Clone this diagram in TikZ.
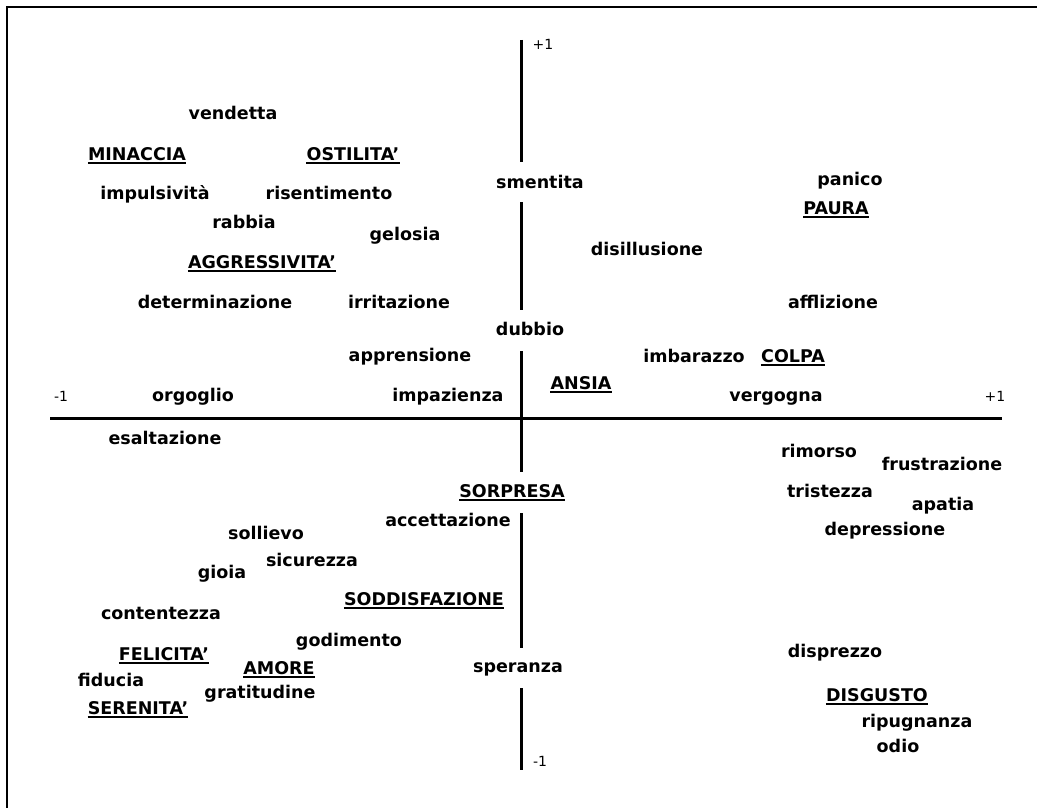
\documentclass[tikz,border=0pt]{standalone}
\usepackage{fontspec}
\newfontfamily\wordfont{DejaVu Sans}
\begin{document}
\begin{tikzpicture}[x=1pt,y=-1pt,
  word/.style={anchor=base, inner sep=0pt, font=\wordfont\bfseries\fontsize{17.5}{20}\selectfont},
  tick/.style={anchor=base, inner sep=0pt, font=\wordfont\fontsize{14}{16}\selectfont},
  axis/.style={line width=3pt},
  ul/.style={line width=1.5pt},
  frame/.style={line width=2pt}]
\useasboundingbox (0,0) rectangle (1037,808);
\fill[white] (0,0) rectangle (1037,808);
% outer frame (left and top edges)
\draw[frame] (7,808) -- (7,7) -- (1037,7);

% axis end labels
\node[tick] (ptop) at (543,50) {+1};
\node[tick] (mbot) at (540,766) {-1};
\node[tick] (mleft) at (61,401) {-1};
\node[tick] (pright) at (995,401) {+1};

% upper left quadrant
\node[word] (vendetta) at (233,120) {vendetta};
\node[word] (minaccia) at (137,160) {MINACCIA};
\node[word] (ostilita) at (353,160) {OSTILITA’};
\node[word] (impulsivita) at (155,199) {impulsività};
\node[word] (risentimento) at (329,199) {risentimento};
\node[word] (rabbia) at (244,228) {rabbia};
\node[word] (gelosia) at (405,240) {gelosia};
\node[word] (aggressivita) at (262,268) {AGGRESSIVITA’};
\node[word] (determinazione) at (215,308) {determinazione};
\node[word] (irritazione) at (399,308) {irritazione};
\node[word] (apprensione) at (410,361) {apprensione};
\node[word] (orgoglio) at (193,401) {orgoglio};
\node[word] (impazienza) at (448,401) {impazienza};

% on the vertical axis
\node[word] (smentita) at (540,188) {smentita};
\node[word] (dubbio) at (530,335) {dubbio};
\node[word] (sorpresa) at (512,497) {SORPRESA};
\node[word] (speranza) at (518,672) {speranza};

% upper right quadrant
\node[word] (panico) at (850,185) {panico};
\node[word] (paura) at (836,214) {PAURA};
\node[word] (disillusione) at (647,255) {disillusione};
\node[word] (afflizione) at (833,308) {afflizione};
\node[word] (imbarazzo) at (694,362) {imbarazzo};
\node[word] (colpa) at (793,362) {COLPA};
\node[word] (ansia) at (581,389) {ANSIA};
\node[word] (vergogna) at (776,401) {vergogna};

% lower left quadrant
\node[word] (esaltazione) at (165,444) {esaltazione};
\node[word] (accettazione) at (448,526) {accettazione};
\node[word] (sollievo) at (266,539) {sollievo};
\node[word] (sicurezza) at (312,566) {sicurezza};
\node[word] (gioia) at (222,578) {gioia};
\node[word] (soddisfazione) at (424,605) {SODDISFAZIONE};
\node[word] (contentezza) at (161,619) {contentezza};
\node[word] (godimento) at (349,646) {godimento};
\node[word] (felicita) at (164,660) {FELICITA’};
\node[word] (amore) at (279,674) {AMORE};
\node[word] (fiducia) at (111,686) {fiducia};
\node[word] (gratitudine) at (260,698) {gratitudine};
\node[word] (serenita) at (138,714) {SERENITA’};

% lower right quadrant
\node[word] (rimorso) at (819,457) {rimorso};
\node[word] (frustrazione) at (942,470) {frustrazione};
\node[word] (tristezza) at (830,497) {tristezza};
\node[word] (apatia) at (943,510) {apatia};
\node[word] (depressione) at (885,535) {depressione};
\node[word] (disprezzo) at (835,657) {disprezzo};
\node[word] (disgusto) at (877,701) {DISGUSTO};
\node[word] (ripugnanza) at (917,727) {ripugnanza};
\node[word] (odio) at (898,752) {odio};

% underlined category names
\foreach \n in {minaccia,ostilita,aggressivita,paura,colpa,ansia,sorpresa,
                soddisfazione,felicita,amore,serenita,disgusto}
  \draw[ul] ([yshift=-3pt]\n.base west) -- ([yshift=-3pt]\n.base east);

% axes: the vertical one is broken where labels sit on it
\coordinate (xl) at (50,418);
\coordinate (xr) at (1002,418);
\draw[axis] (xl) -- (xr);
\coordinate (v1a) at (521,40);  \coordinate (v1b) at (521,162);
\coordinate (v2a) at (521,202); \coordinate (v2b) at (521,310);
\coordinate (v3a) at (521,351); \coordinate (v3b) at (521,472);
\coordinate (v4a) at (521,513); \coordinate (v4b) at (521,648);
\coordinate (v5a) at (521,688); \coordinate (v5b) at (521,770);
\foreach \s in {1,...,5}
  \draw[axis] (v\s a) -- (v\s b);
\end{tikzpicture}
\end{document}
